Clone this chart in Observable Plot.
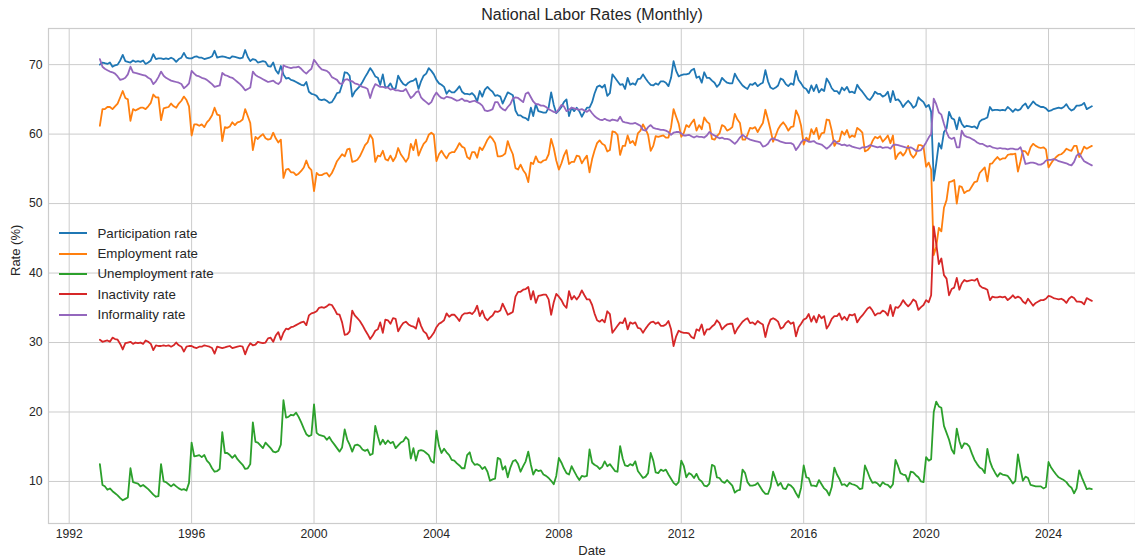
<!DOCTYPE html>
<html>
<head>
<meta charset="utf-8">
<script src="https://cdn.jsdelivr.net/npm/d3@7"></script>
<script src="https://cdn.jsdelivr.net/npm/@observablehq/plot@0.6"></script>
<style>
  html, body { margin: 0; padding: 0; background: #fff; }
  #chart { position: relative; width: 1135px; height: 559px; font-family: 'Liberation Sans', Arial, sans-serif; color: #262626; }
  #legend { position: absolute; left: 59px; top: 223px; font-size: 13.3px; }
  #legend .row { display: flex; align-items: center; height: 20.4px; }
  #legend .sw { width: 28px; height: 2px; margin-right: 10.5px; }
</style>
</head>
<body>
<div id="chart"></div>
<script>
// ---- data (monthly, Jan 1993 .. Jun 2025) ----
const startYear = 1993;
const titleText = "National Labor Rates (Monthly)";
const xLabel = "Date";
const yLabel = "Rate (%)";
const xTickYears = [1992, 1996, 2000, 2004, 2008, 2012, 2016, 2020, 2024];
const yTicks = [10, 20, 30, 40, 50, 60, 70];
const seriesNames = ["Participation rate", "Employment rate", "Unemployment rate", "Inactivity rate", "Informality rate"];
const seriesColors = ["#1f77b4", "#ff7f0e", "#2ca02c", "#d62728", "#9467bd"];

const participation = [
/*1993*/70.0,70.3,70.2,70.1,70.3,69.7,69.9,70.0,70.6,71.4,70.5,70.4,
/*1994*/70.3,70.6,70.4,70.5,70.4,70.6,70.1,70.3,70.6,71.5,70.8,70.9,
/*1995*/70.9,70.8,70.9,70.8,71.0,70.8,70.4,70.8,71.0,71.7,71.0,70.9,
/*1996*/70.9,71.1,71.2,71.0,71.0,70.8,70.9,71.0,71.2,72.0,71.0,71.1,
/*1997*/71.2,71.1,71.0,70.9,71.2,71.1,71.0,70.9,71.0,72.1,71.1,70.5,
/*1998*/70.8,70.7,70.3,70.4,70.5,70.4,69.8,69.7,70.3,69.2,68.7,69.8,
/*1999*/68.6,68.0,68.1,67.8,67.7,67.5,67.3,67.1,67.0,67.5,66.1,65.8,
/*2000*/65.7,65.5,65.0,64.9,65.0,64.8,64.5,64.6,65.2,65.9,66.0,67.1,
/*2001*/68.9,68.8,68.4,65.4,66.1,66.5,66.9,67.5,68.2,68.8,69.5,69.0,
/*2002*/68.3,68.1,67.1,68.6,66.7,66.8,67.3,66.5,66.6,68.4,67.7,67.2,
/*2003*/67.0,67.4,67.6,67.7,68.0,66.5,67.6,68.4,68.7,69.5,69.1,68.6,
/*2004*/67.8,67.3,67.1,66.8,65.8,66.3,66.0,66.0,66.4,66.9,66.1,65.8,
/*2005*/65.8,65.7,65.9,65.5,64.7,66.2,65.4,66.4,66.8,66.4,66.1,65.5,
/*2006*/65.6,65.4,64.4,65.2,66.0,65.8,65.6,63.4,62.7,62.7,62.4,62.3,
/*2007*/62.0,63.8,62.6,64.3,63.3,63.2,63.1,63.1,63.8,66.0,64.2,63.0,
/*2008*/63.4,63.9,64.6,65.0,62.6,63.8,63.3,63.8,63.3,62.5,63.2,63.8,
/*2009*/63.8,64.6,65.8,66.8,67.0,66.7,67.1,65.5,65.9,68.6,68.1,67.6,
/*2010*/67.1,67.2,66.5,68.1,67.1,67.3,67.1,67.9,68.0,68.6,68.0,67.5,
/*2011*/67.1,67.0,67.3,67.1,67.6,67.6,67.4,66.9,68.1,70.5,69.1,68.3,
/*2012*/68.5,68.6,68.6,68.7,69.2,69.4,68.1,68.3,67.4,68.9,68.1,68.1,
/*2013*/67.7,67.4,66.8,67.2,68.1,67.7,67.4,67.3,67.3,68.7,68.0,67.5,
/*2014*/67.0,66.7,66.5,67.2,67.1,67.4,66.9,67.2,67.4,69.2,67.6,66.7,
/*2015*/66.5,66.7,67.0,68.0,67.8,67.2,66.9,67.3,67.1,69.1,67.8,67.3,
/*2016*/66.7,66.5,65.9,67.0,66.2,67.1,66.0,66.5,66.2,68.0,67.4,66.6,
/*2017*/66.2,66.2,65.8,66.7,66.3,66.8,66.0,66.1,65.9,67.1,66.5,66.1,
/*2018*/65.6,65.1,64.9,65.4,66.1,65.8,65.8,65.4,65.6,66.1,64.6,66.2,
/*2019*/64.9,65.0,64.6,63.9,64.4,64.8,64.4,63.8,64.1,65.3,64.9,64.6,
/*2020*/63.9,64.2,63.2,53.3,55.8,58.7,57.9,60.3,60.8,63.2,62.3,62.1,
/*2021*/60.7,62.4,61.5,61.0,61.2,61.1,61.0,61.1,60.8,61.8,62.1,62.2,
/*2022*/62.4,63.9,63.4,63.5,63.5,63.4,63.5,63.4,63.9,63.6,63.2,63.6,
/*2023*/63.4,63.6,64.1,64.4,63.7,64.2,64.7,64.3,64.1,63.9,63.9,63.7,
/*2024*/63.3,63.4,63.6,63.7,63.8,63.7,63.9,64.3,63.7,63.4,63.6,64.1,
/*2025*/64.1,64.2,64.5,63.6,63.8,64.0
];

const employment = [
/*1993*/61.2,63.6,63.6,63.9,63.9,63.6,64.0,64.4,65.3,66.2,65.2,65.0,
/*1994*/61.9,63.6,63.4,63.6,63.8,63.8,63.6,64.0,64.5,65.7,65.3,65.3,
/*1995*/62.0,63.7,63.8,63.9,64.4,64.0,63.8,64.4,64.8,65.4,64.9,64.0,
/*1996*/59.8,61.4,61.4,61.2,61.4,61.0,61.7,62.1,62.7,63.8,62.8,62.7,
/*1997*/59.0,61.0,60.9,61.1,61.7,61.3,61.7,61.8,62.1,63.6,62.6,61.6,
/*1998*/57.7,59.6,59.3,59.7,60.0,59.4,59.2,59.3,60.2,59.4,58.8,59.2,
/*1999*/53.7,54.9,55.0,54.5,54.5,54.1,54.3,54.7,55.2,56.2,55.2,54.8,
/*2000*/51.8,54.4,54.1,54.1,54.3,54.4,53.9,54.4,55.2,56.1,56.6,57.1,
/*2001*/56.8,57.8,57.9,56.0,56.1,56.3,56.8,57.6,58.4,58.8,59.9,59.3,
/*2002*/56.0,56.9,56.8,57.6,56.4,56.2,56.9,56.1,56.7,58.0,57.1,56.6,
/*2003*/56.0,56.6,58.6,57.7,59.2,56.9,57.8,58.6,59.0,59.9,60.2,59.9,
/*2004*/56.1,57.1,57.6,57.0,56.5,57.2,57.4,57.4,58.0,58.7,58.2,58.0,
/*2005*/56.7,56.4,57.4,57.4,56.6,58.1,57.7,58.4,59.2,59.7,59.3,58.7,
/*2006*/56.8,56.8,56.9,57.2,59.0,57.9,57.1,55.1,54.9,55.6,54.8,54.3,
/*2007*/53.1,55.9,55.7,56.8,56.0,55.9,56.2,56.3,57.1,59.3,58.0,56.2,
/*2008*/54.9,55.8,56.9,57.7,55.7,56.0,56.0,56.9,56.8,55.8,56.4,56.9,
/*2009*/54.5,56.4,57.6,58.7,59.1,58.6,58.4,57.5,57.7,60.4,60.3,59.9,
/*2010*/57.0,58.3,58.3,59.8,58.7,59.0,58.4,60.1,60.5,61.4,60.7,59.9,
/*2011*/57.6,58.3,59.7,59.6,59.7,59.8,59.5,59.5,61.0,63.6,62.5,61.5,
/*2012*/59.6,60.2,61.3,61.0,61.6,62.1,60.5,61.3,60.7,62.4,61.8,61.5,
/*2013*/59.3,59.2,59.7,60.1,61.3,61.1,60.5,60.7,61.0,62.9,62.1,61.6,
/*2014*/59.2,59.2,59.9,60.9,60.8,61.0,60.3,61.0,61.6,63.5,62.1,60.6,
/*2015*/58.9,59.8,60.7,61.3,61.7,61.2,60.5,61.0,61.1,63.4,62.6,61.2,
/*2016*/58.5,59.5,59.0,60.7,60.0,60.9,59.3,60.1,60.2,62.1,62.0,60.5,
/*2017*/58.3,58.9,59.0,60.4,59.9,60.6,59.5,59.8,59.6,60.9,60.6,60.2,
/*2018*/57.5,57.7,58.1,59.0,59.6,59.4,59.7,58.9,59.3,59.8,58.7,59.8,
/*2019*/56.4,57.1,57.4,56.9,57.4,58.3,57.1,56.6,57.1,58.4,58.4,58.2,
/*2020*/55.3,55.9,54.9,42.6,43.8,46.5,46.0,49.4,50.5,53.1,53.2,53.4,
/*2021*/50.0,52.5,52.4,51.5,51.8,51.9,52.5,53.1,53.2,54.4,54.8,55.2,
/*2022*/53.2,55.7,55.8,56.3,56.7,56.3,56.5,56.5,57.0,57.1,57.1,57.2,
/*2023*/54.6,56.1,57.6,57.5,57.0,58.1,58.6,58.3,58.1,58.0,58.1,57.8,
/*2024*/55.2,55.8,56.3,56.7,57.0,57.1,57.4,57.9,57.7,57.6,58.3,58.3,
/*2025*/56.7,57.4,58.2,57.9,58.1,58.3
];

const unemployment = [
/*1993*/12.5,9.5,9.3,8.8,9.0,8.6,8.3,8.0,7.6,7.3,7.5,7.7,
/*1994*/11.9,9.9,9.8,9.7,9.3,9.5,9.2,8.9,8.5,8.1,7.8,7.9,
/*1995*/12.5,10.0,9.9,9.6,9.3,9.6,9.3,9.0,8.8,8.9,8.7,9.8,
/*1996*/15.6,13.6,13.7,13.8,13.5,13.8,13.0,12.6,11.9,11.4,11.5,11.8,
/*1997*/17.1,14.1,14.1,13.8,13.4,13.8,13.2,12.8,12.4,11.8,11.9,12.5,
/*1998*/18.5,15.7,15.6,15.2,14.8,15.6,15.2,14.8,14.3,14.2,14.4,15.3,
/*1999*/21.7,19.2,19.3,19.6,19.5,19.9,19.3,18.5,17.6,16.8,16.5,16.7,
/*2000*/21.1,17.0,16.7,16.6,16.5,16.0,16.4,15.8,15.3,14.8,14.3,14.9,
/*2001*/17.5,16.0,15.3,14.3,15.2,15.3,15.1,14.6,14.4,14.6,13.8,14.0,
/*2002*/18.0,16.5,15.3,16.0,15.4,15.9,15.5,15.7,14.8,15.2,15.6,15.8,
/*2003*/16.4,16.0,13.3,14.8,13.0,14.4,14.5,14.4,14.1,13.8,12.9,12.7,
/*2004*/17.3,15.1,14.1,14.7,14.2,13.8,13.1,13.0,12.6,12.3,11.9,11.9,
/*2005*/13.8,14.2,12.9,12.4,12.5,12.3,11.8,12.1,11.4,10.1,10.3,10.4,
/*2006*/13.4,13.2,11.7,12.2,10.6,12.0,12.9,13.1,12.5,11.4,12.2,12.9,
/*2007*/14.3,12.4,11.0,11.7,11.5,11.6,11.0,10.8,10.5,10.1,9.6,10.8,
/*2008*/13.4,12.7,11.9,11.2,11.0,12.2,11.5,10.8,10.2,10.8,10.7,10.8,
/*2009*/14.6,12.7,12.4,12.2,11.8,12.1,12.9,12.2,12.5,12.0,11.5,11.4,
/*2010*/15.1,13.3,12.3,12.2,12.5,12.3,12.9,11.5,11.0,10.5,10.7,11.2,
/*2011*/14.1,13.0,11.3,11.2,11.7,11.5,11.7,11.0,10.4,9.8,9.5,9.9,
/*2012*/13.0,12.2,10.6,11.2,11.0,10.5,11.1,10.3,10.0,9.4,9.3,9.7,
/*2013*/12.4,12.2,10.6,10.5,10.0,9.8,10.2,9.8,9.4,8.4,8.7,8.8,
/*2014*/11.7,11.2,9.9,9.4,9.4,9.5,9.8,9.2,8.6,8.2,8.2,9.2,
/*2015*/11.4,10.3,9.4,9.8,9.0,8.9,9.6,9.4,9.0,8.3,7.7,9.1,
/*2016*/12.3,10.6,10.5,9.4,9.4,9.3,10.2,9.6,9.0,8.7,8.0,9.2,
/*2017*/12.0,11.0,10.4,9.5,9.6,9.3,9.8,9.6,9.5,9.3,8.9,9.0,
/*2018*/12.3,11.4,10.5,9.8,9.9,9.7,9.3,9.9,9.6,9.5,9.1,9.6,
/*2019*/13.1,12.2,11.2,11.0,10.9,10.0,11.4,11.3,10.9,10.6,10.0,9.9,
/*2020*/13.5,13.0,13.2,20.0,21.5,20.8,20.6,18.0,17.0,16.0,14.6,14.0,
/*2021*/17.6,15.8,14.8,15.5,15.4,15.0,14.0,13.1,12.5,12.0,11.8,11.2,
/*2022*/14.7,12.9,12.0,11.3,10.7,11.2,11.0,10.9,10.8,10.3,9.7,10.1,
/*2023*/13.9,11.8,10.1,10.7,10.5,9.5,9.4,9.3,9.3,9.3,9.0,9.2,
/*2024*/12.8,12.0,11.5,11.0,10.6,10.4,10.2,9.9,9.4,9.1,8.3,9.0,
/*2025*/11.6,10.6,9.8,8.9,9.0,8.9
];

const inactivity = [
/*1993*/30.4,30.1,30.2,30.3,30.1,30.7,30.5,30.4,29.8,29.0,29.9,30.0,
/*1994*/30.1,29.8,30.0,29.9,30.0,29.8,30.3,30.1,29.8,28.9,29.6,29.5,
/*1995*/29.5,29.6,29.5,29.6,29.4,29.6,30.0,29.6,29.4,28.7,29.4,29.5,
/*1996*/29.5,29.3,29.2,29.4,29.4,29.6,29.5,29.4,29.2,28.4,29.4,29.3,
/*1997*/29.2,29.3,29.4,29.5,29.2,29.3,29.4,29.5,29.4,28.3,29.3,29.9,
/*1998*/29.6,29.7,30.1,30.0,29.9,30.0,30.6,30.7,30.1,31.0,31.5,30.4,
/*1999*/31.4,32.0,31.9,32.2,32.3,32.5,32.7,32.9,33.0,32.5,33.9,34.2,
/*2000*/34.3,34.5,35.0,35.1,35.0,35.2,35.5,35.4,34.8,34.1,34.0,32.9,
/*2001*/31.1,31.2,31.6,34.6,33.9,33.5,33.1,32.5,31.8,31.2,30.5,31.0,
/*2002*/31.7,31.9,32.9,31.4,33.3,33.2,32.7,33.5,33.4,31.6,32.3,32.8,
/*2003*/33.0,32.6,32.4,32.3,32.0,33.5,32.4,31.6,31.3,30.5,30.9,31.4,
/*2004*/32.2,32.7,32.9,33.2,34.2,33.7,34.0,34.0,33.6,33.1,33.9,34.2,
/*2005*/34.2,34.3,34.1,34.5,35.3,33.8,34.6,33.6,33.2,33.6,33.9,34.5,
/*2006*/34.4,34.6,35.6,34.8,34.0,34.2,34.4,36.6,37.3,37.3,37.6,37.7,
/*2007*/38.0,36.2,37.4,35.7,36.7,36.8,36.9,36.9,36.2,34.0,35.8,37.0,
/*2008*/36.6,36.1,35.4,35.0,37.4,36.2,36.7,36.2,36.7,37.5,36.8,36.2,
/*2009*/36.2,35.4,34.2,33.2,33.0,33.3,32.9,34.5,34.1,31.4,31.9,32.4,
/*2010*/32.9,32.8,33.5,31.9,32.9,32.7,32.9,32.1,32.0,31.4,32.0,32.5,
/*2011*/32.9,33.0,32.7,32.9,32.4,32.4,32.6,33.1,31.9,29.5,30.9,31.7,
/*2012*/31.5,31.4,31.4,31.3,30.8,30.6,31.9,31.7,32.6,31.1,31.9,31.9,
/*2013*/32.3,32.6,33.2,32.8,31.9,32.3,32.6,32.7,32.7,31.3,32.0,32.5,
/*2014*/33.0,33.3,33.5,32.8,32.9,32.6,33.1,32.8,32.6,30.8,32.4,33.3,
/*2015*/33.5,33.3,33.0,32.0,32.2,32.8,33.1,32.7,32.9,30.9,32.2,32.7,
/*2016*/33.3,33.5,34.1,33.0,33.8,32.9,34.0,33.5,33.8,32.0,32.6,33.4,
/*2017*/33.8,33.8,34.2,33.3,33.7,33.2,34.0,33.9,34.1,32.9,33.5,33.9,
/*2018*/34.4,34.9,35.1,34.6,33.9,34.2,34.2,34.6,34.4,33.9,35.4,33.8,
/*2019*/35.1,35.0,35.4,36.1,35.6,35.2,35.6,36.2,35.9,34.7,35.1,35.4,
/*2020*/36.1,35.8,36.8,46.7,44.2,41.3,42.1,39.7,39.2,36.8,37.7,37.9,
/*2021*/39.3,37.6,38.5,39.0,38.8,38.9,39.0,38.9,39.2,38.2,37.9,37.8,
/*2022*/37.6,36.1,36.6,36.5,36.5,36.6,36.5,36.6,36.1,36.4,36.8,36.4,
/*2023*/36.6,36.4,35.9,35.6,36.3,35.8,35.3,35.7,35.9,36.1,36.1,36.3,
/*2024*/36.7,36.6,36.4,36.3,36.2,36.3,36.1,35.7,36.3,36.6,36.4,35.9,
/*2025*/35.9,35.8,35.5,36.4,36.2,36.0
];

const informality = [
/*1993*/70.8,69.7,69.4,69.2,69.0,68.9,68.7,68.3,67.8,67.9,68.1,68.6,
/*1994*/69.7,68.9,68.8,68.7,68.6,68.5,68.4,68.1,67.9,67.2,67.6,68.2,
/*1995*/69.0,68.4,68.1,67.9,67.7,67.6,67.5,67.4,67.2,66.6,66.9,67.3,
/*1996*/69.1,68.7,68.4,68.3,68.1,68.0,67.8,67.5,67.2,66.8,66.9,67.0,
/*1997*/68.8,68.5,68.4,68.2,68.1,67.8,67.5,67.2,66.8,66.3,66.5,66.7,
/*1998*/69.0,68.5,68.3,68.1,67.9,67.7,67.5,67.6,67.7,67.4,67.2,67.6,
/*1999*/69.9,69.7,69.6,69.5,69.6,69.6,69.7,69.4,69.0,68.7,69.1,69.4,
/*2000*/70.7,70.2,69.7,69.3,69.2,69.1,68.8,68.2,68.0,67.8,67.3,67.2,
/*2001*/67.8,67.9,67.7,67.6,67.3,67.2,67.0,66.8,66.7,66.5,65.2,66.4,
/*2002*/67.2,67.0,66.8,66.8,66.7,66.7,66.4,66.5,66.3,66.3,66.2,66.2,
/*2003*/66.5,65.8,65.2,65.5,66.0,66.2,65.3,64.9,64.6,64.3,64.6,65.4,
/*2004*/66.0,65.5,65.2,65.1,65.4,65.3,65.2,65.0,64.8,64.9,65.1,64.8,
/*2005*/64.8,64.6,64.7,64.8,64.6,64.4,64.1,63.4,63.3,63.4,63.6,64.6,
/*2006*/64.6,63.9,63.6,63.4,63.9,64.3,65.1,65.3,65.2,64.9,64.6,65.8,
/*2007*/66.0,65.3,64.7,64.3,64.3,64.1,64.1,63.9,63.6,63.4,63.2,63.1,
/*2008*/63.6,64.2,64.0,63.3,63.5,63.8,63.7,63.6,63.5,63.6,63.4,63.2,
/*2009*/63.5,63.0,62.6,62.3,62.1,62.0,62.2,62.0,61.9,62.1,62.0,61.9,
/*2010*/62.5,61.8,61.7,61.6,61.5,61.5,61.6,61.4,61.2,60.6,60.5,61.0,
/*2011*/61.3,60.9,60.8,60.7,60.6,60.6,60.5,60.3,59.9,60.2,60.3,60.3,
/*2012*/60.1,59.8,59.8,59.9,59.7,59.5,59.7,59.6,59.6,59.5,59.8,60.3,
/*2013*/60.0,59.8,59.6,59.4,59.5,59.3,59.3,59.2,58.9,58.6,59.0,59.5,
/*2014*/59.9,59.6,59.4,59.2,59.1,59.0,58.9,58.8,58.2,58.3,58.6,59.2,
/*2015*/59.4,59.2,59.1,58.9,58.8,58.7,58.7,58.7,58.5,57.7,58.2,58.8,
/*2016*/59.2,59.1,58.9,58.9,59.0,58.7,58.6,58.5,58.2,57.9,58.2,58.6,
/*2017*/59.1,58.7,58.6,58.4,58.5,58.3,58.4,58.2,58.1,58.0,57.9,58.1,
/*2018*/58.1,58.2,58.4,58.3,58.2,58.1,58.2,58.0,58.1,58.1,57.9,58.4,
/*2019*/58.5,58.4,58.3,58.2,58.1,58.0,58.1,57.9,57.6,57.6,57.7,58.2,
/*2020*/58.8,59.5,60.0,65.1,64.3,63.1,62.8,61.5,60.3,59.5,59.3,59.5,
/*2021*/58.1,58.1,60.5,59.8,59.6,59.5,59.3,59.1,58.8,58.6,58.6,58.4,
/*2022*/58.2,58.3,58.1,58.0,57.9,58.0,57.9,57.9,57.8,57.9,57.9,57.8,
/*2023*/57.8,58.1,57.1,55.7,55.8,55.9,55.9,55.8,55.6,55.6,55.8,56.2,
/*2024*/56.3,56.3,56.4,56.3,56.1,56.0,55.9,55.8,55.6,55.5,56.0,56.9,
/*2025*/57.2,56.6,56.1,55.9,55.7,55.5
];

// ---- build table ----
const seriesValues = [participation, employment, unemployment, inactivity, informality];
const rows = [];
seriesValues.forEach((vals, k) => {
  vals.forEach((v, i) => {
    rows.push({ series: seriesNames[k], date: new Date(Date.UTC(startYear, i, 1)), value: v });
  });
});

const xDomain = [new Date(Date.UTC(1991, 3, 29)), new Date(Date.UTC(2026, 10, 4))];
const yDomain = [3.95, 75.2];
const gridColor = "#cccccc";
const font = "'Liberation Sans', Arial, sans-serif";
const xTickDates = xTickYears.map(y => new Date(Date.UTC(y, 0, 1)));

const chart = Plot.plot({
  width: 1135,
  height: 559,
  marginTop: 28,
  marginBottom: 36,
  marginLeft: 48,
  marginRight: 0,
  style: { fontFamily: font, fontSize: "12.2px", color: "#262626", background: "#fff" },
  x: { type: "utc", domain: xDomain },
  y: { domain: yDomain },
  color: { domain: seriesNames, range: seriesColors },
  marks: [
    Plot.gridX(xTickDates, { stroke: gridColor, strokeOpacity: 1, strokeWidth: 1 }),
    Plot.gridY(yTicks, { stroke: gridColor, strokeOpacity: 1, strokeWidth: 1 }),
    Plot.frame({ stroke: gridColor, strokeWidth: 1.2 }),
    Plot.axisX(xTickDates, { tickFormat: d3.utcFormat("%Y"), tickSize: 0, tickPadding: 6, label: null }),
    Plot.axisY(yTicks, { tickSize: 0, tickPadding: 6, label: null }),
    Plot.line(rows, { x: "date", y: "value", z: "series", stroke: "series", strokeWidth: 1.8 }),
    Plot.text([titleText], { text: d => d, frameAnchor: "top", lineAnchor: "middle", dy: -14, fontSize: 16, fill: "#262626" }),
    Plot.text([xLabel], { text: d => d, frameAnchor: "bottom", lineAnchor: "middle", dy: 27, fontSize: 13, fill: "#262626" }),
    Plot.text([yLabel], { text: d => d, frameAnchor: "left", lineAnchor: "middle", dx: -33, rotate: -90, fontSize: 13, fill: "#262626" })
  ]
});

const host = document.getElementById("chart");
host.appendChild(chart);

const legend = document.createElement("div");
legend.id = "legend";
seriesNames.forEach((name, k) => {
  const row = document.createElement("div");
  row.className = "row";
  const sw = document.createElement("div");
  sw.className = "sw";
  sw.style.background = seriesColors[k];
  const tx = document.createElement("span");
  tx.textContent = name;
  row.appendChild(sw);
  row.appendChild(tx);
  legend.appendChild(row);
});
host.appendChild(legend);
</script>
</body>
</html>
